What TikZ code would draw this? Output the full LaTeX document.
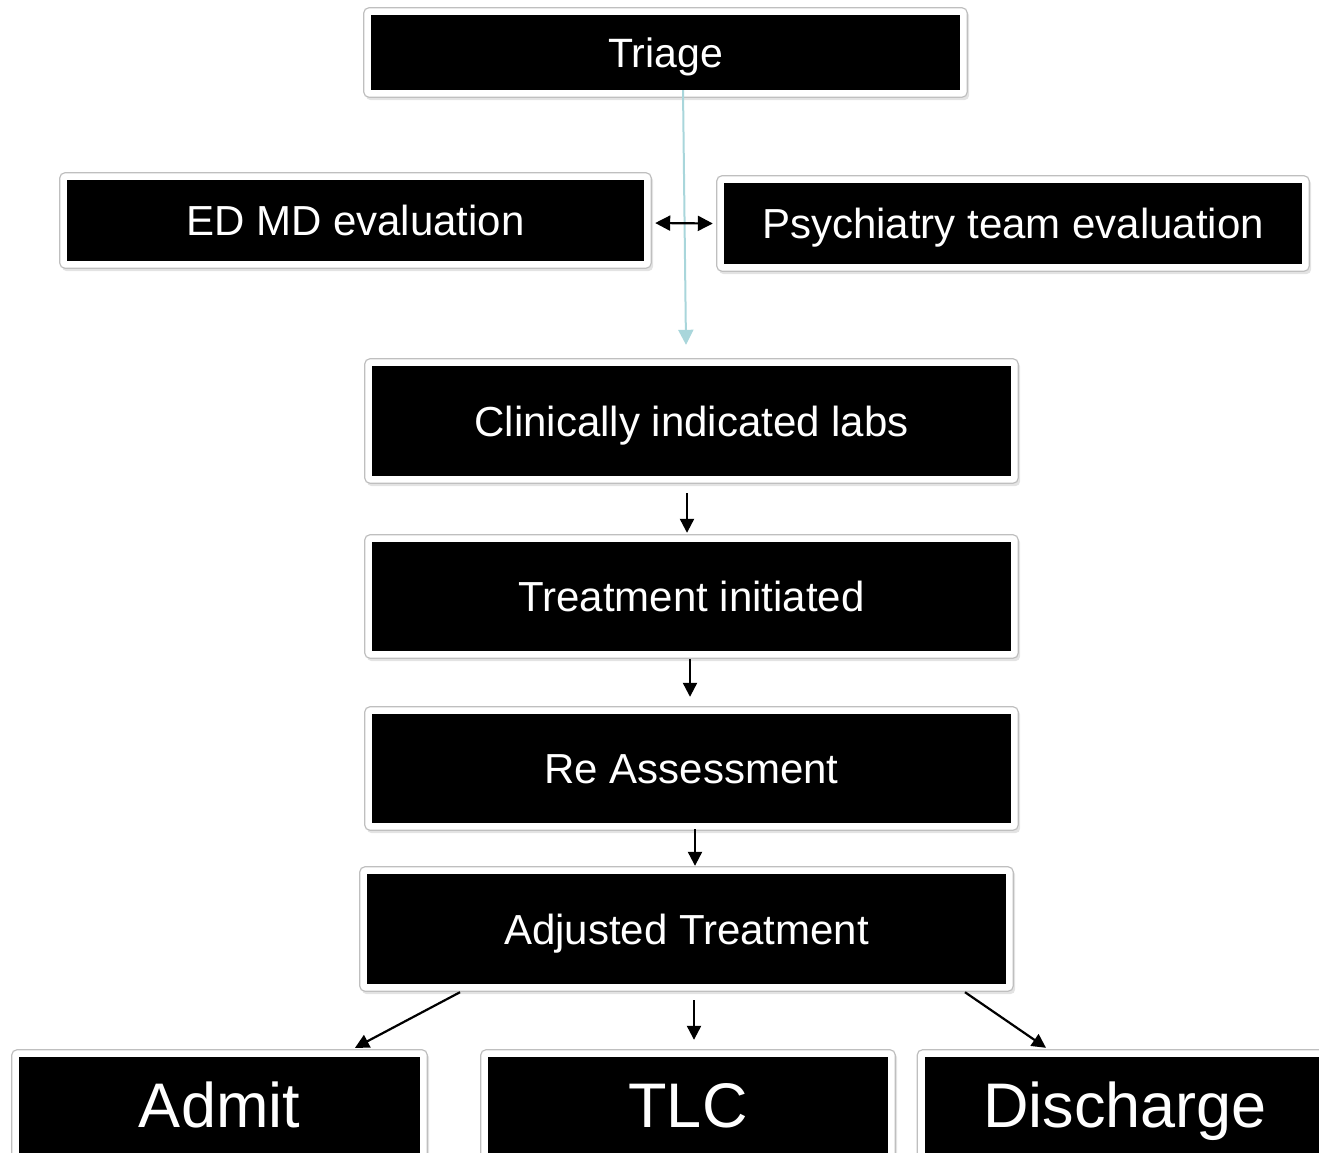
\documentclass[tikz,border=0pt]{standalone}
\usepackage{fontspec}
\setmainfont{Liberation Sans}
\usetikzlibrary{arrows.meta,shadows,backgrounds,fit}
\definecolor{tealline}{HTML}{A9D6DB}
\tikzset{
  inbox/.style={fill=black, text=white, inner sep=0pt, text height=30pt, text depth=0pt,
    font=\fontsize{42}{50}\selectfont},
  bigbox/.style={inbox, text height=45pt, font=\fontsize{63}{75}\selectfont},
  outbox/.style={draw=black!25, line width=1.2pt, fill=white, rounded corners=5pt, inner sep=7pt,
    drop shadow={opacity=0.22, shadow xshift=2pt, shadow yshift=-3pt}},
  conn/.style={draw=black, line width=2.2pt, -{Triangle[width=14pt,length=14pt]}},
  dconn/.style={draw=black, line width=2.2pt, {Triangle[width=15pt,length=15pt]}-{Triangle[width=15pt,length=15pt]}},
  tconn/.style={draw=tealline, line width=2pt, -{Triangle[width=15pt,length=15pt]}},
}
\begin{document}
\begin{tikzpicture}[x=1pt,y=-1pt]
\clip (0,0) rectangle (1319,1152);
\node[inbox, minimum width=589pt, minimum height=75pt, text height=29.4pt, font=\fontsize{41}{49}\selectfont] (triage) at (665.5,52.5) {Triage};
\node[inbox, minimum width=577pt, minimum height=81pt] (edmd) at (355.5,220.5) {ED MD evaluation};
\node[inbox, minimum width=578pt, minimum height=81pt] (psych) at (1013,223.5) {Psychiatry team evaluation};
\node[inbox, minimum width=639pt, minimum height=110pt] (labs) at (691.5,421) {Clinically indicated labs};
\node[inbox, minimum width=639pt, minimum height=109pt] (treat) at (691.5,596.5) {Treatment initiated};
\node[inbox, minimum width=639pt, minimum height=109pt] (reass) at (691.5,768.5) {Re Assessment};
\node[inbox, minimum width=639pt, minimum height=110pt] (adj) at (686.5,929) {Adjusted Treatment};
\node[bigbox, minimum width=401pt, minimum height=96pt] (admit) at (219.5,1105) {Admit};
\node[bigbox, minimum width=400pt, minimum height=96pt] (tlc) at (688,1105) {TLC};
\node[bigbox, minimum width=401pt, minimum height=96pt] (disch) at (1125,1105) {Discharge};
\begin{scope}[on background layer]
  \foreach \n in {triage,edmd,psych,labs,treat,reass,adj,admit,tlc,disch}
    \node[outbox, fit=(\n)] (\n-frame) {};
\end{scope}
\draw[tconn] ([xshift=17.5pt]triage.south) -- ([xshift=-5.5pt,yshift=21pt]labs.north);
\draw[dconn] ([xshift=11pt,yshift=-2.5pt]edmd.east) -- ([xshift=-11pt]psych.west);
\draw[conn] ([xshift=-4.5pt,yshift=-17pt]labs.south) -- ([xshift=-4.5pt,yshift=9pt]treat.north);
\draw[conn] ([xshift=-1.5pt,yshift=-8pt]treat.south) -- ([xshift=-1.5pt,yshift=17pt]reass.north);
\draw[conn] ([xshift=3.5pt,yshift=-6pt]reass.south) -- ([xshift=8.5pt,yshift=8pt]adj.north);
\draw[conn] ([xshift=7.5pt,yshift=-16pt]adj.south) -- ([xshift=6pt,yshift=17pt]tlc.north);
\draw[conn] ([xshift=-226.5pt,yshift=-8pt]adj.south) -- ([xshift=135.5pt,yshift=9pt]admit.north);
\draw[conn] ([xshift=278.5pt,yshift=-8pt]adj.south) -- ([xshift=-79pt,yshift=9pt]disch.north);
\end{tikzpicture}
\end{document}
